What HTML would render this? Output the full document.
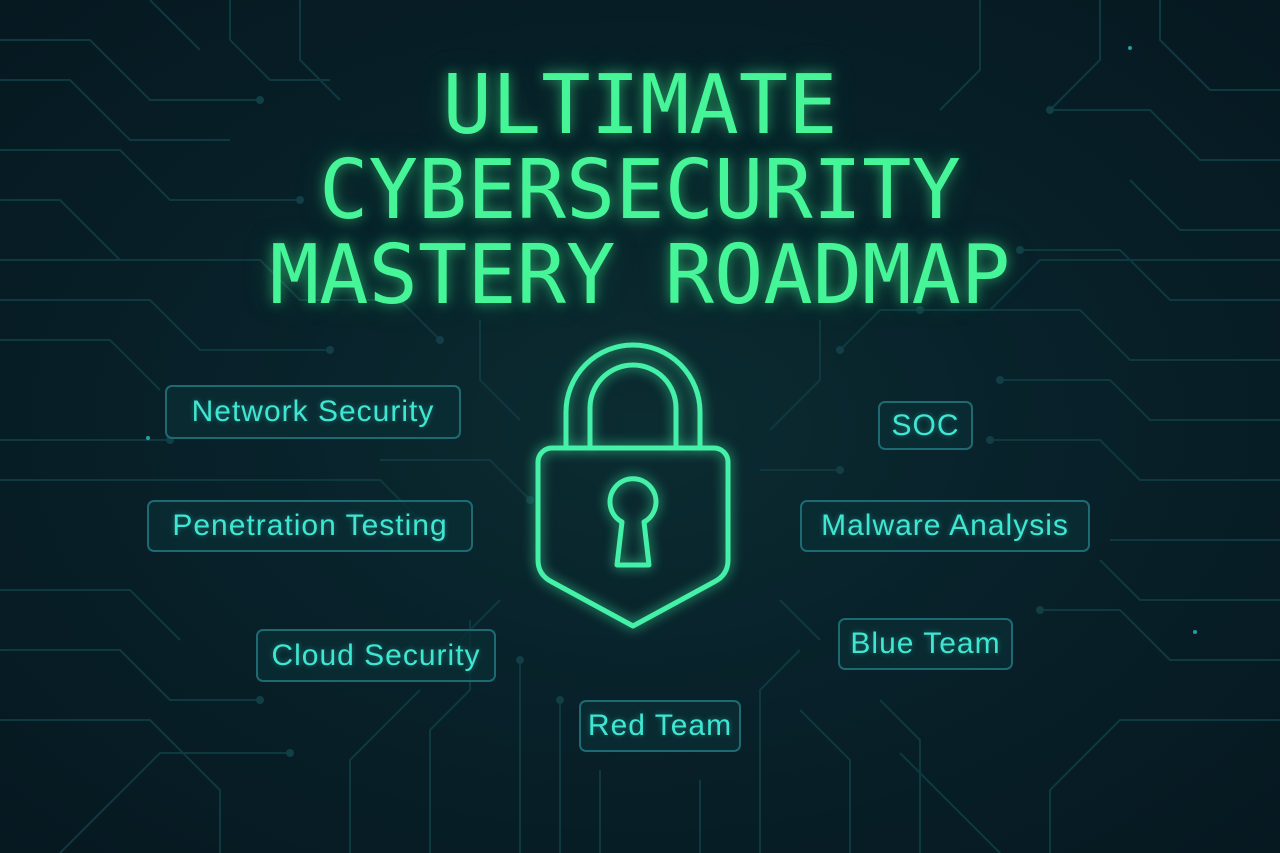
<!DOCTYPE html>
<html><head><meta charset="utf-8"><style>
html,body{margin:0;padding:0}
body{width:1280px;height:853px;overflow:hidden;position:relative;background:radial-gradient(ellipse at 50% 50%,#0b2c31 0%,#08212a 45%,#061820 100%);font-family:"Liberation Sans",sans-serif}
svg{position:absolute;left:0;top:0}
.t{position:absolute;left:0;width:1280px;text-align:center;font-family:"DejaVu Sans Mono",monospace;font-size:82px;color:#45f598;text-shadow:0 0 12px rgba(60,240,140,.55),0 0 30px rgba(60,240,140,.25);line-height:1}
.b{position:absolute;box-sizing:border-box;border:2px solid #1d6a72;border-radius:7px;background:rgba(10,45,52,.75);color:#3fe6d2;font-size:30px;display:flex;align-items:center;justify-content:center;text-shadow:0 0 6px rgba(60,230,210,.4);letter-spacing:1px;white-space:nowrap}
</style></head><body>
<svg width="1280" height="853" fill="none" stroke="#0f3940" stroke-width="2">
<g>
<path d="M0 40 H90 L150 100 H260"/><path d="M0 80 H70 L130 140 H230"/><path d="M0 150 H120 L170 200 H300"/><path d="M0 200 H60 L120 260 H240"/>
<path d="M0 300 H150 L200 350 H330"/><path d="M0 340 H110 L160 390"/><path d="M0 440 H170"/><path d="M0 480 H380 L420 520"/><path d="M0 590 H130 L180 640"/>
<path d="M0 650 H120 L170 700 H260"/><path d="M0 720 H150 L220 790 V853"/><path d="M60 853 L160 753 H290"/><path d="M350 853 V760 L420 690"/>
<path d="M430 853 V730 L470 690 V620"/><path d="M520 853 V660"/><path d="M560 853 V700"/><path d="M600 853 V770"/><path d="M700 853 V780"/><path d="M760 853 V690 L800 650"/>
<path d="M850 853 V760 L800 710"/><path d="M920 853 V740 L880 700"/><path d="M1000 853 L900 753"/><path d="M1280 720 H1120 L1050 790 V853"/>
<path d="M1280 660 H1170 L1120 610 H1040"/><path d="M1280 600 H1140 L1100 560"/><path d="M1280 540 H1110"/><path d="M1280 480 H1140 L1100 440 H990"/>
<path d="M1280 420 H1150 L1110 380 H1000"/><path d="M1280 360 H1130 L1080 310 H920"/><path d="M1280 300 H1170 L1120 250 H1020"/><path d="M1280 230 H1180 L1130 180"/>
<path d="M1280 160 H1200 L1150 110 H1050"/><path d="M1280 90 H1210 L1160 40 V0"/><path d="M1100 0 V60 L1050 110"/><path d="M980 0 V70 L940 110"/>
<path d="M300 0 V60 L340 100"/><path d="M230 0 V40 L270 80 H330"/><path d="M150 0 L200 50"/>
<path d="M480 320 V380 L520 420"/><path d="M820 320 V380 L770 430"/><path d="M380 460 H490 L530 500"/><path d="M760 470 H840"/><path d="M500 600 L460 640"/><path d="M780 600 L820 640"/>
<path d="M0 260 H260 L300 300 H400 L440 340"/><path d="M1280 260 H1040 L990 310 H880 L840 350"/>
</g>
<g fill="#123f46" stroke="none">
<circle cx="260" cy="100" r="4"/><circle cx="300" cy="200" r="4"/><circle cx="330" cy="350" r="4"/><circle cx="170" cy="440" r="4"/><circle cx="260" cy="700" r="4"/><circle cx="290" cy="753" r="4"/>
<circle cx="1040" cy="610" r="4"/><circle cx="990" cy="440" r="4"/><circle cx="1000" cy="380" r="4"/><circle cx="920" cy="310" r="4"/><circle cx="1020" cy="250" r="4"/><circle cx="1050" cy="110" r="4"/>
<circle cx="530" cy="500" r="4"/><circle cx="840" cy="470" r="4"/><circle cx="440" cy="340" r="4"/><circle cx="840" cy="350" r="4"/><circle cx="520" cy="660" r="4"/><circle cx="560" cy="700" r="4"/>
</g>
<g fill="#2fd6e0" stroke="none" opacity=".7"><circle cx="1130" cy="48" r="2"/><circle cx="1195" cy="632" r="2"/><circle cx="148" cy="438" r="2"/></g>
<g stroke="#45f0a8" stroke-width="5" stroke-linejoin="round" style="filter:drop-shadow(0 0 6px rgba(60,240,160,.8))">
<path d="M566 448 V412 A67 67 0 0 1 700 412 V448"/>
<path d="M590 448 V408 A43 43 0 0 1 676 408 V448 Z"/>
<path d="M552 448 H714 A14 14 0 0 1 728 462 V560 Q728 575 714 582 L633 626 L552 582 Q538 575 538 560 V462 A14 14 0 0 1 552 448 Z"/>
<path d="M622 522 A23 23 0 1 1 644 522 L649 565 H617 Z"/>
</g>
</svg>
<div class="t" style="top:65px">ULTIMATE</div>
<div class="t" style="top:150px">CYBERSECURITY</div>
<div class="t" style="top:235px">MASTERY ROADMAP</div>
<div class="b" style="left:165px;top:385px;width:296px;height:54px">Network Security</div>
<div class="b" style="left:147px;top:500px;width:326px;height:52px">Penetration Testing</div>
<div class="b" style="left:256px;top:629px;width:240px;height:53px">Cloud Security</div>
<div class="b" style="left:579px;top:700px;width:162px;height:52px">Red Team</div>
<div class="b" style="left:878px;top:401px;width:95px;height:49px">SOC</div>
<div class="b" style="left:800px;top:500px;width:290px;height:52px">Malware Analysis</div>
<div class="b" style="left:838px;top:618px;width:175px;height:52px">Blue Team</div>
</body></html>
